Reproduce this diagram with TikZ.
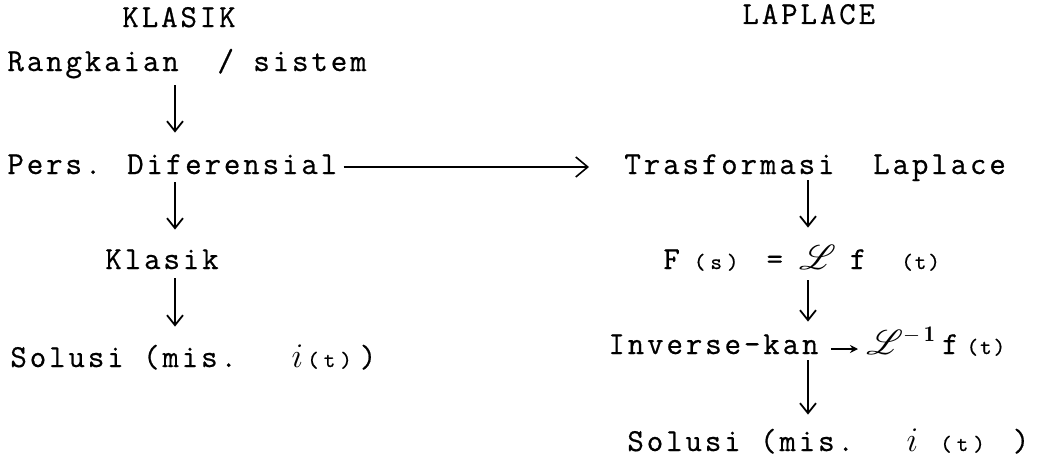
\documentclass[tikz,border=0pt]{standalone}
\usepackage{fontspec}
\newfontfamily\tw{Latin Modern Mono}[LetterSpace=9, FakeBold=0.6]
\usepackage{mathrsfs}
\usetikzlibrary{arrows.meta}

% small typewriter text for function arguments
\newcommand{\sm}[1]{{\fontsize{11}{12}\selectfont#1}}
\newcommand{\fnarg}[1]{\sm{(\hspace{2.5pt}#1\hspace{2.5pt})}}
\newcommand{\Lap}{$\mathscr{L}$}

\tikzset{
  lbl/.style={anchor=base west, inner sep=0pt, text height=10pt, text depth=3pt,
              font=\tw\fontsize{16}{19}\selectfont},
  head/.style={lbl},
  varr/.style={line width=0.9pt, -{Straight Barb[length=5pt,width=8pt,line width=0.9pt]}},
  harr/.style={line width=0.8pt, -{Straight Barb[length=6pt,width=10pt,line width=0.8pt]}},
  sarr/.style={line width=0.8pt, -{Stealth[length=4pt,width=4pt]}}
}

\begin{document}
\begin{tikzpicture}[x=0.5pt, y=-0.5pt]
  \useasboundingbox (0,0) rectangle (1050,466);

  % column guides for the vertical connectors
  \coordinate (lx) at (175,0);
  \coordinate (rx) at (808,0);

  % classical route
  \node[head] (klasikH) at (122,27) {KLASIK};
  \node[lbl] (rang) at (7,71) {Rangkaian\ \ / sistem};
  \node[lbl] (pers) at (7,174) {Pers. Diferensial};
  \node[lbl] (klasik) at (105,269) {Klasik};
  \node[lbl] (solL) at (10,367)
    {Solusi (mis.\ \ \hspace{8pt}$i$\hspace{2pt}\fnarg{t}\hspace{4pt})};

  % Laplace route
  \node[head] (laplaceH) at (742,24) {LAPLACE};
  \node[lbl] (trans) at (624,174) {Trasformasi\ \ Laplace};
  \node[lbl] (fs) at (663,269)
    {F\hspace{7pt}\fnarg{s}\hspace{14pt}=\hspace{8pt}\Lap\hspace{7pt}f\hspace{17.5pt}\sm{(t)}};
  \node[lbl] (inv) at (608,354) {Inverse-kan};
  \node[lbl] (linv) at (866,354)
    {$\mathscr{L}^{-\,\mathbf{1}}$\hspace{3pt}f\hspace{4pt}\sm{(t)}};
  \node[lbl] (solR) at (627,451)
    {Solusi (mis.\ \ \hspace{7pt}$i$\hspace{11pt}\fnarg{t}\hspace{14pt})};

  % connectors
  \draw[varr, shorten <=4pt, shorten >=10.5pt] (rang.south -| lx) -- (pers.north -| lx);
  \draw[varr, shorten <=1pt, shorten >=9.5pt] (pers.south -| lx) -- (klasik.north -| lx);
  \draw[varr, shorten <=1.5pt, shorten >=10pt] (klasik.south -| lx) -- (solL.north -| lx);

  \draw[harr, shorten <=3pt, shorten >=17.5pt] (pers.east) -- (pers.east -| trans.west);

  \draw[varr, shorten <=0pt, shorten >=10.5pt] (trans.south -| rx) -- (fs.north -| rx);
  \draw[varr, shorten <=2.5pt, shorten >=6pt] (fs.south -| rx) -- (inv.north -| rx);
  \draw[varr, shorten <=0pt, shorten >=8pt] (inv.south -| rx) -- (solR.north -| rx);

  \draw[sarr, shorten <=6pt, shorten >=4pt] ([yshift=-1pt]inv.east) -- ([yshift=-1pt]linv.west);
\end{tikzpicture}
\end{document}
